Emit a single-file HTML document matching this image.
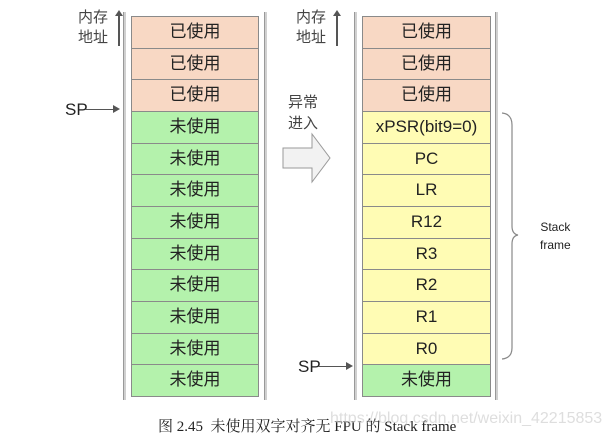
<!DOCTYPE html>
<html><head><meta charset="utf-8"><style>
body{margin:0;width:610px;height:436px;background:#fff;position:relative;overflow:hidden;font-family:"Liberation Sans","Noto Sans CJK SC",sans-serif}
.c{position:absolute;box-sizing:border-box;border:1px solid #8a8a8a;text-align:center;font-size:17px;color:#222;line-height:30px;height:32.6px}
.u{background:#f8d8c4}.g{background:#b4f2ac}.y{background:#fffcb4}
.vl{position:absolute;top:12px;height:388px;width:2px;background:#d0d0d0;border-left:1px solid #999}
.t{position:absolute;font-size:15px;color:#222}
</style></head><body>
<div class="vl" style="left:123px"></div><div class="vl" style="left:264px"></div>
<div class="vl" style="left:354px"></div><div class="vl" style="left:495px"></div>
<div id="L"></div><div id="R"></div>
<div class="t" style="left:78px;top:8px;line-height:20px;color:#444">内存<br>地址</div>
<div style="position:absolute;left:118px;top:14px;width:1.5px;height:32px;background:#555"></div>
<div style="position:absolute;left:115px;top:10px;border:4px solid transparent;border-bottom:6px solid #555;border-top:0"></div>
<div class="t" style="left:296px;top:8px;line-height:20px;color:#444">内存<br>地址</div>
<div style="position:absolute;left:336px;top:14px;width:1.5px;height:32px;background:#555"></div>
<div style="position:absolute;left:333px;top:10px;border:4px solid transparent;border-bottom:6px solid #555;border-top:0"></div>
<div class="t" style="left:65px;top:100px;font-size:17px">SP</div>
<div style="position:absolute;left:85px;top:109px;width:28px;height:1px;background:#555"></div>
<div style="position:absolute;left:113px;top:105px;border:4px solid transparent;border-left:7px solid #555;border-right:0"></div>
<div class="t" style="left:298px;top:357px;font-size:17px">SP</div>
<div style="position:absolute;left:318px;top:366px;width:28px;height:1px;background:#555"></div>
<div style="position:absolute;left:346px;top:362px;border:4px solid transparent;border-left:7px solid #555;border-right:0"></div>
<div class="t" style="left:288px;top:92px;line-height:21px;color:#444">异常<br>进入</div>
<svg style="position:absolute;left:0;top:0" width="610" height="436">
<path d="M283 148 H312 V134 L330 158 L312 182 V168 H283 Z" fill="#f2f2f2" stroke="#999"/>
<path d="M502 113 Q512 114 512 125 V226 Q512 234 518 235 Q512 236 512 244 V348 Q512 358 502 359" fill="none" stroke="#888" stroke-width="1.2"/>
</svg>
<div class="t" style="left:540px;top:218px;font-size:12px;line-height:18px;text-align:center">Stack<br>frame</div>
<div class="t" style="left:158px;top:415px;font-family:'Liberation Serif','Noto Serif CJK SC',serif;font-size:15px">图 2.45&nbsp; 未使用双字对齐无 FPU 的 Stack frame</div>
<div class="t" style="left:330px;top:410px;font-size:16px;color:rgba(190,190,190,0.5)">https://blog.csdn.net/weixin_42215853</div>
<script>
var L=document.getElementById('L'),R=document.getElementById('R'),h=31.67,s='';
for(var i=0;i<12;i++){var u=i<3;s+='<div class="c '+(u?'u':'g')+'" style="left:131px;width:128px;top:'+(16+i*h)+'px">'+(u?'已使用':'未使用')+'</div>';}
L.innerHTML=s;s='';
var r=['已使用','已使用','已使用','xPSR(bit9=0)','PC','LR','R12','R3','R2','R1','R0','未使用'];
for(i=0;i<12;i++){var cl=i<3?'u':(i<11?'y':'g');s+='<div class="c '+cl+'" style="left:362px;width:129px;top:'+(16+i*h)+'px">'+r[i]+'</div>';}
R.innerHTML=s;
</script>
</body></html>
